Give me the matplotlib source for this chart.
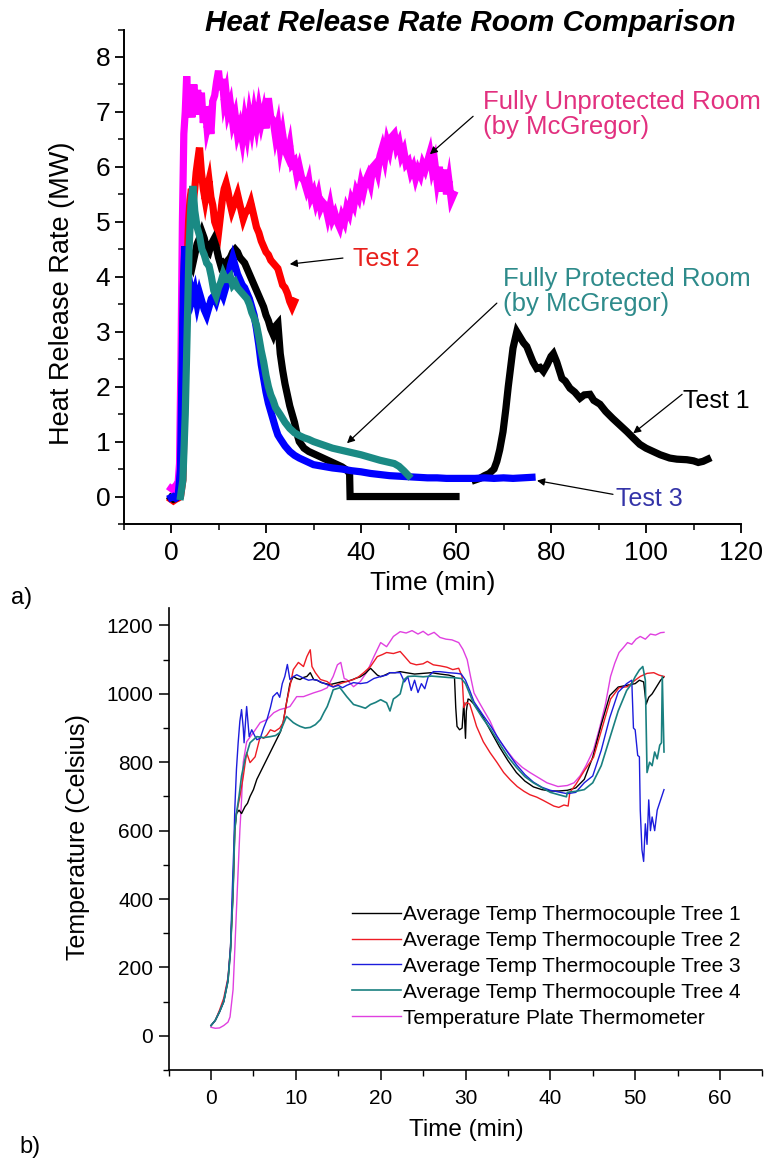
import numpy as np
import matplotlib
matplotlib.use("Agg")
import matplotlib.pyplot as plt
from matplotlib.ticker import MultipleLocator

plt.rcParams['font.family'] = ['Liberation Sans', 'DejaVu Sans']

# ---------------- (a) heat release rate ----------------
unprot_t = [0, 0.5, 1.0, 1.5, 1.8, 2.1, 2.4, 2.7, 3.0, 3.3, 3.6, 4.0, 4.4, 4.8, 5.2, 5.6, 6.0, 6.4, 6.8, 7.2,
            7.6, 8.0, 8.4, 8.8, 9.2, 9.6, 10.0, 10.4, 10.8, 11.2, 11.6, 12.0, 12.5, 13.0, 13.5, 14.0, 14.5,
            15.0, 15.5, 16.0, 16.5, 17.0, 17.5, 18.0, 18.5, 19.0, 19.5, 20.0, 20.5, 21.0, 21.5, 22.0, 22.5,
            23.0, 23.5, 24.0, 24.5, 25.0, 25.5, 26.0, 26.5, 27.0, 27.5, 28.0, 28.5, 29.0, 29.5, 30.0, 30.5,
            31.0, 31.5, 32.0, 32.5, 33.0, 33.5, 34.0, 34.5, 35.0, 35.5, 36.0, 36.5, 37.0, 37.5, 38.0, 38.5,
            39.0, 39.5, 40.0, 40.5, 41.0, 41.5, 42.0, 42.5, 43.0, 43.5, 44.0, 44.5, 45.0, 45.5, 46.0, 46.5,
            47.0, 47.5, 48.0, 48.5, 49.0, 49.5, 50.0, 50.5, 51.0, 51.5, 52.0, 52.5, 53.0, 53.5, 54.0, 54.5,
            55.0, 55.5, 56.0, 56.5, 57.0, 57.5, 58.0, 58.5, 59.0, 59.5]
unprot_hrr = [0.15, 0.12, 0.2, 0.25, 0.6, 2.5, 5.0, 6.6, 7.0, 7.65, 7.1, 7.3, 6.9, 7.5, 7.0, 7.4, 6.95, 7.35, 6.8, 7.1,
              6.7, 6.85, 6.6, 7.2, 7.3, 7.55, 7.75, 7.4, 7.6, 7.2, 7.35, 7.0, 7.15, 6.8, 6.95, 6.6, 6.75,
              6.5, 6.85, 6.6, 6.95, 6.7, 7.0, 6.75, 7.05, 6.8, 7.0, 6.7, 7.25, 6.9, 6.85, 6.55, 6.75,
              6.35, 6.6, 6.3, 6.2, 6.4, 6.05, 6.1, 5.85, 6.0, 5.8, 5.75, 5.6, 5.75, 5.45, 5.55, 5.35,
              5.5, 5.25, 5.35, 5.3, 5.1, 5.3, 5.05, 5.15, 5.0, 4.9, 5.1, 5.0, 5.25, 5.15, 5.4, 5.3,
              5.55, 5.45, 5.7, 5.55, 5.75, 5.85, 5.7, 6.0, 6.05, 5.9, 6.2, 6.35, 6.15, 6.45, 6.3, 6.55,
              6.6, 6.35, 6.45, 6.2, 6.3, 6.05, 6.1, 5.9, 6.0, 5.8, 5.95, 5.85, 6.05, 5.95, 6.1, 6.25,
              5.95, 6.1, 5.75, 6.0, 5.55, 5.95, 5.5, 5.75, 5.4, 5.5]

test2_t = [0, 0.5, 1.0, 1.5, 2.0, 2.5, 2.8, 3.1, 3.4, 3.7, 4.0, 4.3, 4.6, 5.0, 5.3, 5.6, 6.0, 6.4, 6.8, 7.2,
           7.6, 8.0, 8.4, 8.8, 9.2, 9.6, 10.0, 10.4, 10.8, 11.2, 11.6, 12.0, 12.4, 12.8, 13.2, 13.6, 14.0,
           14.4, 14.8, 15.2, 15.6, 16.0, 16.4, 16.8, 17.2, 17.6, 18.0, 18.5, 19.0, 19.5, 20.0, 20.5, 21.0,
           21.5, 22.0, 22.5, 23.0, 23.5, 24.0, 24.5, 25.0, 25.5, 26.0]
test2_hrr = [-0.05, -0.08, -0.05, -0.03, 0.0, 0.3, 1.5, 3.0, 4.2, 5.0, 5.4, 5.6, 5.3, 5.6, 5.9, 6.1, 6.35, 5.9, 5.6, 5.4,
             5.6, 5.75, 5.45, 5.3, 5.0, 4.9, 4.8, 5.1, 5.4, 5.6, 5.7, 5.55, 5.35, 5.2, 5.3, 5.4, 5.5,
             5.35, 5.2, 5.05, 5.15, 5.2, 5.25, 5.35, 5.2, 5.05, 4.9, 4.8, 4.65, 4.55, 4.45, 4.4, 4.3,
             4.25, 4.2, 4.15, 4.0, 3.85, 3.8, 3.7, 3.55, 3.45, 3.55]

# Test 1: first burn, a logging gap recorded as zero, then the second burn
test1_t = [0, 0.5, 1.0, 1.5, 2.0, 2.3, 2.6, 2.9, 3.2, 3.6, 4.0, 4.5, 5.0, 5.5, 6.0, 6.5, 7.0, 7.5, 8.0, 8.5,
           9.0, 9.5, 10.0, 10.5, 11.0, 11.5, 12.0, 12.5, 13.0, 13.5, 14.0, 14.5, 15.0, 15.5, 16.0, 16.5,
           17.0, 17.5, 18.0, 18.5, 19.0, 19.5, 20.0, 20.5, 21.0, 21.5, 22.0, 22.5, 23.0, 23.5, 24.0, 24.5,
           25.0, 25.5, 26.0, 26.5, 27.0, 28, 29, 30, 31, 32, 33, 34, 35, 36, 37, 37.6, 37.7, 45, 50, 55, 60,
           60.01,
           64, 65, 66, 67, 68, 68.6, 69.2, 69.9, 70.5, 71.0, 71.4, 72.0, 72.8, 73.5, 74.2, 74.9, 75.5, 76.2,
           77.0, 77.7, 78.4, 79.2, 80.0, 80.5, 81.2, 82.3, 83.0, 84.0, 85.0, 86.1, 87.0, 88.2, 89.0, 90.3,
           91.5, 93.0, 94.5, 96.0, 97.5, 98.7, 100.0, 101.5, 103.0, 105.0, 106.5, 108.6, 110.0, 111.0,
           112.0, 113.0]
test1_hrr = [-0.02, -0.05, -0.03, 0.0, 0.1, 1.2, 3.2, 4.55, 4.3, 4.15, 4.3, 4.2, 4.4, 4.6, 4.7, 4.82, 4.7, 4.5, 4.45, 4.6,
             4.68, 4.55, 4.35, 4.2, 4.25, 4.2, 4.3, 4.35, 4.45, 4.5, 4.45, 4.35, 4.3, 4.25, 4.15, 4.05,
             3.95, 3.85, 3.75, 3.65, 3.55, 3.45, 3.3, 3.2, 3.05, 2.95, 3.1, 3.15, 2.6, 2.3, 2.05, 1.85,
             1.65, 1.5, 1.35, 1.15, 1.0, 0.88, 0.82, 0.78, 0.74, 0.7, 0.66, 0.62, 0.58, 0.54, 0.48, 0.42, 0.0, 0.0, 0.0, 0.0, 0.0,
             np.nan,
             0.3, 0.33, 0.38, 0.42, 0.5, 0.64, 0.85, 1.18, 1.6, 2.0, 2.28, 2.7, 3.0, 2.9, 2.8, 2.73, 2.6, 2.45,
             2.33, 2.35, 2.28, 2.4, 2.55, 2.6, 2.45, 2.15, 2.1, 1.97, 1.9, 1.79, 1.85, 1.86, 1.75, 1.68,
             1.55, 1.42, 1.3, 1.18, 1.05, 0.95, 0.88, 0.82, 0.76, 0.7, 0.68, 0.67, 0.65, 0.62,
             0.64, 0.68]

test3_t = [0, 0.5, 1.0, 1.5, 2.0, 2.3, 2.6, 2.9, 3.2, 3.5, 4.0, 4.5, 5.0, 5.5, 6.0, 6.5, 7.0, 7.5, 8.0, 8.5,
           9.0, 9.5, 10.0, 10.5, 11.0, 11.5, 12.0, 12.5, 13.0, 13.5, 14.0, 14.5, 15.0, 15.5, 16.0, 16.5,
           17.0, 17.5, 18.0, 18.5, 19.0, 19.5, 20.0, 20.5, 21.0, 21.5, 22.0, 22.5, 23.0, 24.0, 25.0, 26.0,
           27.0, 28.0, 29.0, 30, 32, 34, 36, 38, 40, 42, 44, 46, 48, 50, 52, 54, 56, 58, 60, 62, 64, 66,
           68, 70, 72, 74, 76]
test3_hrr = [-0.02, 0.0, -0.03, 0.0, 0.5, 2.2, 3.8, 4.55, 4.0, 3.7, 3.85, 3.6, 3.75, 3.5, 3.7, 3.55, 3.4, 3.3, 3.45, 3.6,
             3.65, 3.55, 3.7, 3.75, 3.65, 3.8, 3.95, 4.2, 4.35, 4.2, 4.05, 3.95, 3.85, 3.8, 3.7, 3.6,
             3.45, 3.3, 3.05, 2.75, 2.4, 2.15, 1.9, 1.7, 1.55, 1.4, 1.25, 1.12, 1.05, 0.92, 0.82, 0.75,
             0.7, 0.66, 0.62, 0.58, 0.55, 0.52, 0.5, 0.47, 0.45, 0.42, 0.4, 0.38, 0.37, 0.36, 0.35, 0.34,
             0.34, 0.33, 0.33, 0.33, 0.33, 0.34, 0.33, 0.34, 0.33, 0.34, 0.35]

prot_t = [2.0, 2.5, 3.0, 3.4, 3.8, 4.2, 4.6, 5.0, 5.5, 6.0, 6.5, 7.0, 7.5, 8.0, 8.5, 9.0, 9.5, 10.0, 10.5,
          11.0, 11.5, 12.0, 12.5, 13.0, 13.5, 14.0, 14.5, 15.0, 15.5, 16.0, 16.5, 17.0, 17.5, 18.0, 18.5,
          19.0, 19.5, 20.0, 20.5, 21.0, 21.5, 22.0, 23.0, 24.0, 25.0, 26.0, 27.0, 28.0, 29, 30, 32, 34,
          36, 38, 40, 42, 44, 45, 46, 47, 48, 49, 50]
prot_hrr = [0.0, 0.3, 1.5, 3.0, 4.5, 5.3, 5.65, 5.2, 4.9, 4.75, 4.5, 4.4, 4.25, 4.2, 4.0, 3.75, 3.65, 3.8, 3.9,
            4.05, 3.95, 3.95, 4.0, 3.85, 3.9, 3.8, 3.75, 3.7, 3.65, 3.6, 3.5, 3.35, 3.25, 3.12, 2.9,
            2.65, 2.45, 2.2, 2.0, 1.85, 1.75, 1.62, 1.49, 1.35, 1.24, 1.16, 1.11, 1.07, 1.04, 1.0, 0.94, 0.88,
            0.84, 0.8, 0.76, 0.71, 0.66, 0.64, 0.62, 0.6, 0.55, 0.47, 0.38]

# ---------------- (b) compartment temperatures ----------------
tree1_t = [0, 0.5, 1.0, 1.5, 2.0, 2.3, 2.6, 2.8, 3.0, 3.3, 3.6, 4.0, 4.3, 4.6, 5.0, 5.4, 5.8, 6.2, 6.6, 7.0,
           7.4, 7.8, 8.2, 8.5, 8.9, 9.3, 9.7, 10.1, 10.5, 10.9, 11.3, 11.7, 12.1, 12.5, 13.0, 13.5, 14.0,
           14.5, 15.0, 15.5, 16.0, 16.5, 17.0, 17.6, 18.2, 18.8, 19.2, 19.6, 20.0, 20.5, 21.1, 21.7, 22.3,
           23.0, 24.0, 25.0, 26.0, 27.0, 28.0, 28.7, 28.85, 29.0, 29.3, 29.6, 29.8, 30.0, 30.1, 30.3, 30.5,
           31.0, 32.0, 33.0, 34.0, 35.0, 36.0, 37.0, 38.0, 39.0, 40.0, 41.0, 42.0, 43.0, 44.0, 45.0, 46.0,
           47.0, 48.0, 49.0, 50.0, 50.5, 51.0, 51.3, 51.6, 52.0, 52.5, 53.0, 53.4]
tree1_temp = [30, 45, 70, 100, 160, 250, 420, 600, 650, 660, 650, 670, 680, 700, 720, 750, 770, 790, 810, 830,
              850, 870, 890, 916, 974, 1030, 1051, 1045, 1042, 1048, 1051, 1062, 1042, 1040, 1033, 1030, 1027,
              1030, 1033, 1036, 1036, 1040, 1045, 1050, 1060, 1075, 1065, 1055, 1050, 1055, 1062, 1062, 1065,
              1062, 1058, 1060, 1062, 1058, 1055, 1050, 960, 905, 895, 900, 975, 870, 950, 985, 983,
              970, 935, 890, 845, 805, 770, 745, 728, 720, 716, 716, 718, 725, 750, 815, 910,
              995, 1020, 1025, 1030, 1040, 1035, 970, 990, 1000, 1020, 1040, 1050]

tree2_t = [0, 0.5, 1.0, 1.5, 2.0, 2.3, 2.6, 2.8, 3.0, 3.4, 3.8, 4.2, 4.6, 5.2, 5.8, 6.2, 6.6, 7.0, 7.5, 8.1,
           8.5, 8.9, 9.3, 9.7, 10.3, 10.9, 11.3, 11.7, 11.9, 12.3, 12.9, 13.7, 14.4, 15.0, 15.6, 16.2, 16.8,
           17.4, 18.0, 18.8, 19.6, 20.2, 20.7, 21.5, 22.3, 22.8, 23.5, 24.2, 25.0, 25.5, 26.2, 27.0, 27.8,
           28.5, 29.2, 29.6, 29.8, 30.1, 30.5, 31.0, 31.3, 32.1, 32.9, 33.7, 34.5, 35.3, 36.1, 36.9, 37.6,
           38.4, 39.2, 39.8, 40.4, 41.0, 41.6, 42.1, 42.3, 43.0, 44.0, 45.1, 46.1, 47.1, 48.1, 49.1, 50.0,
           50.6, 51.4, 52.2, 52.8, 53.4]
tree2_temp = [30, 45, 75, 110, 170, 260, 430, 610, 650, 699, 758, 828, 799, 816, 875, 870, 880, 895, 890, 900,
              916, 974, 1021, 1071, 1092, 1080, 1109, 1129, 1080, 1062, 1042, 1036, 1021, 1028, 1033, 1038, 1042,
              1050, 1062, 1080, 1109, 1115, 1121, 1118, 1124, 1110, 1090, 1085, 1088, 1095, 1085, 1082, 1078,
              1071, 1075, 1050, 960, 975, 970, 930, 905, 860, 828, 800, 770, 748, 729, 715, 705,
              698, 688, 680, 672, 668, 675, 672, 712, 735, 775, 815, 900, 985, 1018, 1021, 1040,
              1051, 1060, 1062, 1055, 1051]

tree3_t = [0, 0.5, 1.0, 1.5, 2.0, 2.3, 2.5, 2.7, 2.8, 3.0, 3.2, 3.4, 3.6, 3.8, 3.9, 4.1, 4.2, 4.5, 4.8, 5.2,
           5.4, 5.8, 6.2, 6.6, 7.0, 7.3, 7.8, 8.1, 8.4, 8.7, 9.0, 9.3, 9.7, 10.1, 10.5, 11.0, 11.5, 12.0,
           12.5, 12.9, 13.7, 14.4, 15.0, 15.5, 16.0, 16.8, 17.6, 18.4, 19.2, 20.0, 20.7, 21.1, 22.3, 22.8,
           23.2, 23.6, 24.0, 24.4, 24.8, 25.2, 25.6, 26.2, 27.0, 28.0, 29.0, 29.5, 30.0, 30.5, 31.0, 32.0,
           33.0, 34.0, 35.0, 36.0, 37.0, 38.0, 39.0, 40.0, 41.0, 42.0, 43.0, 44.0, 45.0, 46.0, 47.0, 48.0,
           49.0, 49.6, 49.8, 50.0, 50.3, 50.5, 50.6, 50.8, 51.0, 51.2, 51.4, 51.6, 51.8, 52.0, 52.3, 52.6,
           53.0, 53.4]
tree3_temp = [30, 45, 70, 100, 165, 260, 420, 560, 661, 780, 857, 920, 954, 900, 857, 930, 963, 875, 895, 875,
              866, 870, 900, 925, 960, 992, 1004, 990, 1030, 1051, 1086, 1042, 1050, 1056, 1051, 1045, 1040, 1042,
              1040, 1035, 1027, 1020, 1025, 1018, 1025, 1033, 1030, 1033, 1045, 1051, 1055, 1062, 1062, 1035,
              1050, 1010, 1040, 1004, 1030, 1015, 1050, 1065, 1065, 1062, 1060, 1058, 1040, 1010, 977, 940,
              905, 865, 828, 793, 764, 742, 727, 718, 713, 708, 712, 740, 760, 835, 930, 1005,
              1030, 1040, 900, 895, 820, 816, 661, 544, 510, 620, 560, 690, 600, 640, 600, 660,
              690, 720]

tree4_t = [0, 0.5, 1.0, 1.5, 2.0, 2.3, 2.6, 2.8, 3.0, 3.3, 3.6, 4.0, 4.6, 5.4, 6.2, 7.0, 7.6, 8.1, 8.5, 8.9,
           9.3, 9.7, 10.1, 10.5, 11.1, 11.7, 12.3, 12.9, 13.3, 13.7, 14.1, 14.4, 15.2, 16.0, 16.8, 17.6, 18.2,
           18.8, 19.4, 20.0, 20.7, 21.1, 21.5, 21.9, 22.3, 22.7, 23.2, 24.0, 25.0, 26.0, 27.0, 28.0, 28.8,
           29.5, 30.0, 31.0, 32.0, 33.0, 34.0, 35.0, 36.0, 37.0, 38.0, 39.0, 40.0, 41.0, 41.9, 42.0, 43.0,
           44.0, 45.0, 46.0, 47.0, 48.0, 49.0, 49.6, 50.0, 50.5, 50.9, 51.2, 51.4, 51.7, 52.0, 52.3, 52.6,
           52.9, 53.1, 53.2, 53.4]
tree4_temp = [30, 45, 70, 100, 160, 250, 420, 600, 650, 700, 760, 808, 857, 875, 872, 875, 878, 887, 910, 934,
              925, 916, 910, 905, 900, 902, 910, 925, 945, 963, 990, 1012, 1018, 992, 969, 963, 958,
              969, 975, 983, 974, 950, 985, 992, 1000, 1040, 1051, 1052, 1050, 1052, 1050, 1048, 1047,
              1045, 1030, 969, 930, 895, 855, 816, 785, 758, 740, 726, 712, 705, 699, 712, 715,
              720, 740, 790, 870, 950, 1010, 1030, 1050, 1070, 1080, 1040, 770, 800, 790, 830, 810,
              850, 857, 1051, 830]

plate_t = [0, 0.5, 1.0, 1.5, 2.0, 2.24, 2.6, 2.8, 3.1, 3.4, 3.6, 3.8, 4.2, 5.0, 5.8, 6.6, 7.0, 7.4, 8.1, 8.7,
           9.3, 10.1, 10.9, 12.1, 13.0, 13.7, 14.4, 14.9, 15.3, 15.7, 16.0, 16.8, 17.6, 18.4, 19.2, 20.0,
           20.7, 21.5, 22.3, 23.0, 23.7, 24.4, 25.0, 25.6, 26.3, 27.0, 27.7, 28.4, 29.2, 29.7, 30.2, 30.6,
           31.0, 31.5, 32.1, 32.9, 33.7, 34.7, 35.7, 36.7, 37.6, 38.6, 39.6, 40.9, 42.0, 42.8, 43.5, 44.2,
           45.1, 45.8, 46.5, 47.1, 47.6, 48.1, 48.6, 49.1, 49.6, 50.1, 50.6, 51.2, 51.8, 52.4, 53.0, 53.4]
plate_temp = [25, 22, 23, 30, 40, 55, 135, 250, 427, 600, 690, 800, 860, 887, 916, 925, 935, 945, 954, 958,
              963, 992, 992, 1003, 1010, 1018, 1051, 1085, 1092, 1045, 1042, 1021, 1036, 1065, 1109, 1150,
              1138, 1168, 1182, 1178, 1185, 1175, 1183, 1172, 1180, 1165, 1160, 1158, 1150, 1130, 1100, 1050,
              1003, 980, 954, 920, 875, 840, 808, 785, 770, 755, 740, 729, 732, 740, 760, 790,
              837, 900, 970, 1051, 1090, 1121, 1135, 1150, 1145, 1160, 1168, 1160, 1175, 1172, 1179, 1180]

legend_labels = ['Average Temp Thermocouple Tree 1', 'Average Temp Thermocouple Tree 2',
                 'Average Temp Thermocouple Tree 3', 'Average Temp Thermocouple Tree 4',
                 'Temperature Plate Thermometer']

W, H = 764, 1160
fig = plt.figure(figsize=(W / 100, H / 100), dpi=100)


def box(x0, x1, ytop, ybot):
    return [x0 / W, 1 - ybot / H, (x1 - x0) / W, (ybot - ytop) / H]


def fig_label(x, y, s, **kw):
    fig.text(x / W, 1 - y / H, s, ha='center', va='center', **kw)


# ---- panel a ----
ax1 = fig.add_axes(box(123.5, 741, 29.5, 524))
lw = 5.2
ax1.plot(unprot_t, unprot_hrr, color='#ff00ff', lw=lw, solid_joinstyle='miter', zorder=2)
ax1.plot(test2_t, test2_hrr, color='#ff0000', lw=lw, solid_joinstyle='miter', zorder=3)
ax1.plot(test1_t, test1_hrr, color='black', lw=lw, solid_joinstyle='miter', zorder=4)
ax1.plot(test3_t, test3_hrr, color='#0000ff', lw=lw, solid_joinstyle='miter', zorder=5)
ax1.plot(prot_t, prot_hrr, color='#1a8a84', lw=lw, solid_joinstyle='miter', zorder=6)

ax1.set_xlim(-10, 120)
ax1.set_ylim(-0.5, 8.5)
ax1.xaxis.set_major_locator(MultipleLocator(20))
ax1.xaxis.set_minor_locator(MultipleLocator(10))
ax1.yaxis.set_major_locator(MultipleLocator(1))
ax1.yaxis.set_minor_locator(MultipleLocator(0.5))
for s in ('top', 'right'):
    ax1.spines[s].set_visible(False)
for s in ('left', 'bottom'):
    ax1.spines[s].set_linewidth(1.4)
ax1.tick_params(which='major', direction='out', length=6.5, width=1.3, labelsize=19, pad=3)
ax1.tick_params(axis='x', which='major', pad=6)
ax1.tick_params(which='minor', direction='out', length=4, width=1.1)
fig_label(433, 583, 'Time (min)', fontsize=19)
fig_label(62, 293, 'Heat Release Rate (MW)', fontsize=19.5, rotation=90)

arrow = dict(arrowstyle='-|>', color='black', lw=0.9, mutation_scale=11, shrinkA=0, shrinkB=0)
ax1.annotate('', xy=(54.5, 6.23), xytext=(63.6, 6.92), arrowprops=arrow)
ax1.text(65.7, 6.96, 'Fully Unprotected Room\n(by McGregor)', color='#e2307f', fontsize=18.5,
         ha='left', va='center', linespacing=1.05)
ax1.annotate('', xy=(25.0, 4.23), xytext=(36.2, 4.34), arrowprops=arrow)
ax1.text(38.3, 4.32, 'Test 2', color='#e8201c', fontsize=18, ha='left', va='center')
ax1.annotate('', xy=(37.05, 0.97), xytext=(68.6, 3.52), arrowprops=arrow)
ax1.text(69.9, 3.74, 'Fully Protected Room\n(by McGregor)', color='#2e8b8b', fontsize=18.5,
         ha='left', va='center', linespacing=1.05)
ax1.annotate('', xy=(97.3, 1.15), xytext=(107.6, 1.86), arrowprops=arrow)
ax1.text(107.8, 1.73, 'Test 1', color='black', fontsize=18, ha='left', va='center')
ax1.annotate('', xy=(77.05, 0.29), xytext=(93.05, 0.04), arrowprops=arrow)
ax1.text(93.7, -0.04, 'Test 3', color='#3434a8', fontsize=18, ha='left', va='center')

fig_label(470, 23, 'Heat Release Rate Room Comparison', fontsize=21.3,
          fontweight='bold', fontstyle='italic')
fig_label(22, 598, 'a)', fontsize=17)

# ---- panel b ----
ax2 = fig.add_axes(box(168.6, 762.4, 608.4, 1070))
tlw = 1.0
ax2.plot(tree1_t, tree1_temp, color='black', lw=tlw, label=legend_labels[0], zorder=3)
ax2.plot(tree2_t, tree2_temp, color='#ee1c24', lw=tlw, label=legend_labels[1], zorder=3)
ax2.plot(tree3_t, tree3_temp, color='#1c1cdc', lw=tlw, label=legend_labels[2], zorder=3)
ax2.plot(tree4_t, tree4_temp, color='#1a8080', lw=tlw * 1.2, label=legend_labels[3], zorder=3)
ax2.plot(plate_t, plate_temp, color='#e040e0', lw=tlw, label=legend_labels[4], zorder=2)

ax2.set_xlim(-5, 65)
ax2.set_ylim(-100, 1250)
ax2.xaxis.set_major_locator(MultipleLocator(10))
ax2.xaxis.set_minor_locator(MultipleLocator(5))
ax2.yaxis.set_major_locator(MultipleLocator(200))
ax2.yaxis.set_minor_locator(MultipleLocator(100))
for s in ('top', 'right'):
    ax2.spines[s].set_visible(False)
for s in ('left', 'bottom'):
    ax2.spines[s].set_linewidth(1.2)
ax2.tick_params(which='major', direction='out', length=7, width=1.1, labelsize=15, pad=4)
ax2.tick_params(axis='x', which='major', pad=7)
ax2.tick_params(which='minor', direction='out', length=4, width=1.0)
fig_label(466, 1130, 'Time (min)', fontsize=17.5)
fig_label(78, 837, 'Temperature (Celsius)', fontsize=18, rotation=90)

ax2.legend(loc='upper left', bbox_to_anchor=(352 / W, 1 - 905 / H), bbox_transform=fig.transFigure,
           frameon=False, fontsize=15, handlelength=2.35, handletextpad=0.08, labelspacing=0.33,
           borderpad=0, borderaxespad=0)

fig_label(30, 1147, 'b)', fontsize=17)

fig.savefig('out.png', dpi=100, facecolor='white')
